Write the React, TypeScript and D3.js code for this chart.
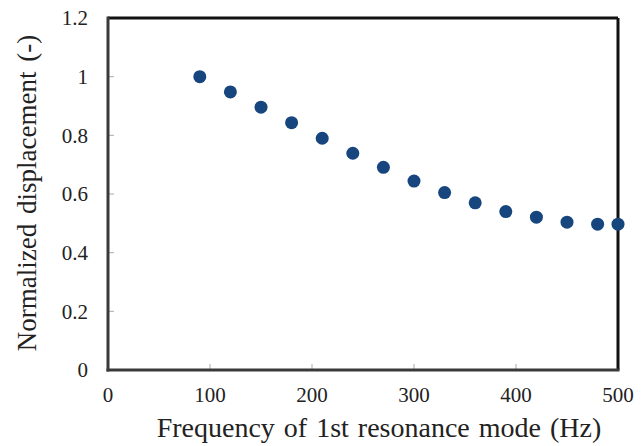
import React from "react";
import * as d3 from "d3";

const freqs = [90, 120, 150, 180, 210, 240, 270, 300, 330, 360, 390, 420, 450, 480, 500];
const disp = [1.0, 0.948, 0.896, 0.843, 0.79, 0.739, 0.691, 0.644, 0.605, 0.57, 0.54, 0.521, 0.504, 0.497, 0.497];
const xTicks = [0, 100, 200, 300, 400, 500];
const yTicks = [0, 0.2, 0.4, 0.6, 0.8, 1, 1.2];

export default function App() {
  const W = 644, H = 446;
  const left = 108, right = 618, top = 18, bottom = 370;
  const x = d3.scaleLinear().domain([0, 500]).range([left, right]);
  const y = d3.scaleLinear().domain([0, 1.2]).range([bottom, top]);
  const fs = { fontFamily: "Liberation Serif, Times New Roman, DejaVu Serif, serif" };
  return (
    <svg width={W} height={H} style={{ position: "absolute", left: 0, top: 0 }}>
      <rect width={W} height={H} fill="#fff" />
      {yTicks.map((t) => (
        <g key={"y" + t}>
          <line x1={left} x2={left + 6} y1={y(t)} y2={y(t)} stroke="#aaa" strokeWidth={1} />
          <text x={88} y={y(t)} dy="0.35em" textAnchor="end" style={fs} fontSize={21} fill="#222">
            {d3.format("~g")(t)}
          </text>
        </g>
      ))}
      {xTicks.map((t) => (
        <g key={"x" + t}>
          <line x1={x(t)} x2={x(t)} y1={bottom} y2={bottom - 6} stroke="#aaa" strokeWidth={1} />
          <text x={x(t)} y={402} textAnchor="middle" style={fs} fontSize={21} fill="#222">
            {t}
          </text>
        </g>
      ))}
      <line x1={left} x2={right} y1={top} y2={top} stroke="#111" strokeWidth={3} />
      <line x1={right} x2={right} y1={top} y2={bottom} stroke="#111" strokeWidth={3} />
      <line x1={left} x2={left} y1={top - 1.5} y2={bottom + 1.5} stroke="#3a3a3a" strokeWidth={3} />
      <line x1={left - 1.5} x2={right + 1.5} y1={bottom} y2={bottom} stroke="#3a3a3a" strokeWidth={3} />
      {freqs.map((f, i) => (
        <circle key={f} cx={x(f)} cy={y(disp[i])} r={6.5} fill="#17457e" />
      ))}
      <text x={379} y={437} textAnchor="middle" style={{ ...fs, wordSpacing: "2px" }} fontSize={28} fill="#222">
        Frequency of 1st resonance mode (Hz)
      </text>
      <text
        transform={`translate(36, 193) rotate(-90)`}
        textAnchor="middle"
        style={{ ...fs, wordSpacing: "3px" }}
        fontSize={27}
        fill="#222"
      >
        Normalized displacement (-)
      </text>
    </svg>
  );
}
